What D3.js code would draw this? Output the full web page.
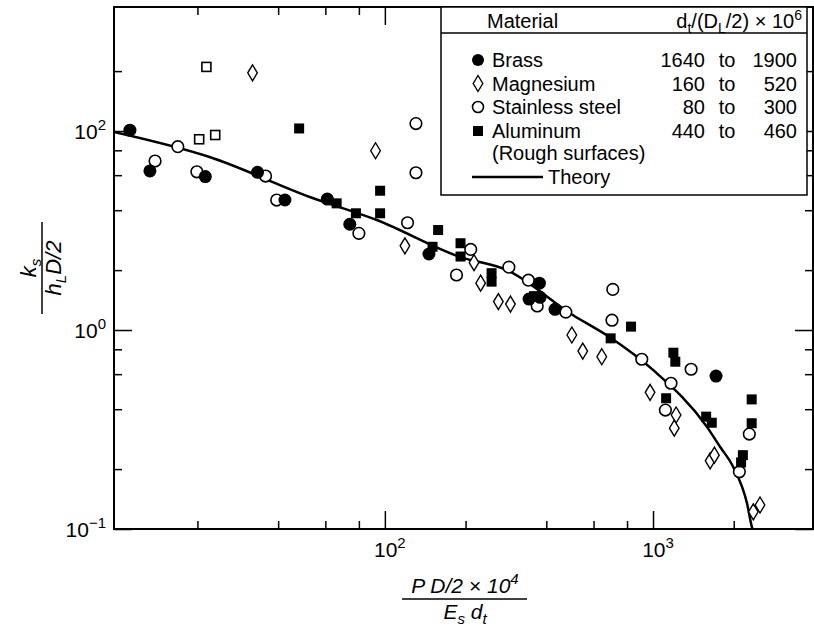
<!DOCTYPE html>
<html>
<head>
<meta charset="utf-8">
<script src="https://cdn.jsdelivr.net/npm/d3@7/dist/d3.min.js"></script>
<style>
  body { margin: 0; background: #fff; }
  svg { font-family: "Liberation Sans", Arial, Helvetica, sans-serif; }
</style>
</head>
<body>
<svg id="chart" width="814" height="626"></svg>
<script>
// values, [x, y] in data units
var brass = [[11.2, 10.1], [13.3, 6.3], [21.4, 5.9], [33.5, 6.2], [42.4, 4.5], [61, 4.55],
  [74, 3.4], [146, 2.41], [377, 1.72], [345, 1.43], [379, 1.46], [431, 1.27], [1718, 0.587]];
var magnesium = [[32.1, 19.6], [92.3, 7.96], [118.8, 2.65], [215, 2.18], [227.6, 1.72],
  [265, 1.39], [294, 1.35], [498, 0.944], [547, 0.784], [644, 0.734], [975, 0.486],
  [1219, 0.374], [1200, 0.321], [1633, 0.22], [1694, 0.235], [2366, 0.122], [2506, 0.132]];
var stainless = [[13.9, 7.07], [16.9, 8.34], [19.9, 6.24], [35.9, 5.94], [39.5, 4.5],
  [130.6, 10.9], [130.6, 6.17], [80, 3.06], [121.5, 3.46], [185, 1.89], [209, 2.54],
  [290, 2.07], [343, 1.78], [370, 1.32], [473, 1.23], [708, 1.6], [703, 1.12], [908, 0.713],
  [1112, 0.396], [1167, 0.54], [1387, 0.635], [2099, 0.194], [2286, 0.3]];
var aluminum = [[47.9, 10.3], [66.1, 4.33], [78, 3.86], [96, 5.01], [96, 3.86], [158, 3.18],
  [150.6, 2.62], [191.5, 2.73], [191.5, 2.34], [250, 1.93], [250, 1.75], [360, 1.48],
  [695, 0.908], [828, 1.04], [1119, 0.454], [1191, 0.769], [1211, 0.693], [1578, 0.367],
  [1656, 0.342], [2163, 0.235], [2130, 0.216], [2333, 0.448], [2333, 0.34]];
var rough = [[21.6, 21.0], [20.3, 9.09], [23.3, 9.55]];
var theory = [[9.77, 9.89], [22.2, 7.4], [52.5, 4.66], [93.3, 3.57], [190.5, 2.33], [285, 2.0],
  [502, 1.19], [697, 0.912], [1000, 0.63], [1589, 0.326], [1778, 0.259], [1991, 0.205],
  [2240, 0.135], [2339, 0.102], [2380, 0.095]];

var xMajor = [100, 1000];
var xMinor = [20, 40, 60, 80, 200, 400, 600, 800, 2000];
var xTickLabels = [["10", "2"], ["10", "3"]];
var yMajor = [0.1, 1, 10];
var yMinor = [0.2, 0.4, 0.6, 0.8, 2, 4, 6, 8, 20];
var yTickLabels = [["10", "\u22121"], ["10", "0"], ["10", "2"]];

var legendNames = ["Brass", "Magnesium", "Stainless steel", "Aluminum"];
var legendFrom = ["1640", "160", "80", "440"];
var legendTo = ["1900", "520", "300", "460"];

(function() {
var svg = d3.select("#chart");
var pl = 114, pr = 813, pt = 7, pb = 529;

var x = d3.scaleLog().domain([9.77, 3950]).range([pl, pr]);
var y = d3.scaleLog().domain([0.1, 42]).range([pb, pt]);

svg.append("defs").append("clipPath").attr("id", "plot")
  .append("rect").attr("x", pl).attr("y", pt)
  .attr("width", pr - pl).attr("height", pb - pt);

// ticks, all pointing inward
function ticks(axis, scale, vals, size, at) {
  var g = svg.append("g").attr("transform", at)
    .call(axis(scale).tickValues(vals).tickSize(-size).tickFormat(""));
  g.select(".domain").remove();
  g.selectAll("line").attr("stroke", "#000").attr("stroke-width", 1.5);
}
ticks(d3.axisBottom, x, xMinor, 8, "translate(0," + pb + ")");
ticks(d3.axisBottom, x, xMajor, 18, "translate(0," + pb + ")");
ticks(d3.axisTop, x, xMinor, 8, "translate(0," + pt + ")");
ticks(d3.axisTop, x, xMajor, 18, "translate(0," + pt + ")");
ticks(d3.axisLeft, y, yMinor, 8, "translate(" + pl + ",0)");
ticks(d3.axisLeft, y, yMajor, 18, "translate(" + pl + ",0)");
ticks(d3.axisRight, y, yMinor, 8, "translate(" + pr + ",0)");
ticks(d3.axisRight, y, yMajor, 18, "translate(" + pr + ",0)");

svg.append("rect").attr("x", pl).attr("y", pt)
  .attr("width", pr - pl).attr("height", pb - pt)
  .attr("fill", "none").attr("stroke", "#000").attr("stroke-width", 2);

// tick labels with superscripts
function power(sel, parts, big, small) {
  sel.append("tspan").attr("font-size", big).text(parts[0]);
  sel.append("tspan").attr("font-size", small).attr("dy", -9).text(parts[1]);
}
xMajor.forEach(function(v, i) {
  svg.append("text").attr("x", x(v) + 5).attr("y", 557)
    .attr("text-anchor", "middle").call(power, xTickLabels[i], 21, 15);
});
yMajor.forEach(function(v, i) {
  svg.append("text").attr("x", 106).attr("y", y(v) + 8)
    .attr("text-anchor", "end").call(power, yTickLabels[i], 21, 15);
});

// theory
var plot = svg.append("g").attr("clip-path", "url(#plot)");
plot.append("path").datum(theory)
  .attr("fill", "none").attr("stroke", "#000").attr("stroke-width", 2.5)
  .attr("d", d3.line().x(function(d) { return x(d[0]); })
    .y(function(d) { return y(d[1]); }).curve(d3.curveMonotoneX));

// markers
var diamond = "M0,-8L4.8,0L0,8L-4.8,0Z";
function circles(data, filled) {
  plot.selectAll(null).data(data).enter().append("circle")
    .attr("cx", function(d) { return x(d[0]); })
    .attr("cy", function(d) { return y(d[1]); })
    .attr("r", filled ? 6.5 : 5.8)
    .attr("fill", filled ? "#000" : "#fff")
    .attr("stroke", "#000").attr("stroke-width", filled ? 0 : 1.6);
}
function squares(data, filled) {
  var s = filled ? 10 : 9;
  plot.selectAll(null).data(data).enter().append("rect")
    .attr("x", function(d) { return x(d[0]) - s / 2; })
    .attr("y", function(d) { return y(d[1]) - s / 2; })
    .attr("width", s).attr("height", s)
    .attr("fill", filled ? "#000" : "#fff")
    .attr("stroke", "#000").attr("stroke-width", filled ? 0 : 1.6);
}
plot.selectAll(null).data(magnesium).enter().append("path")
  .attr("d", diamond)
  .attr("transform", function(d) { return "translate(" + x(d[0]) + "," + y(d[1]) + ")"; })
  .attr("fill", "#fff").attr("stroke", "#000").attr("stroke-width", 1.4);
circles(stainless, false);
squares(rough, false);
squares(aluminum, true);
circles(brass, true);

// legend
var lg = svg.append("g");
lg.append("rect").attr("x", 441).attr("y", pt).attr("width", 366).attr("height", 188)
  .attr("fill", "#fff").attr("stroke", "#000").attr("stroke-width", 1.5);
lg.append("line").attr("x1", 441).attr("x2", 807).attr("y1", 33).attr("y2", 33)
  .attr("stroke", "#000").attr("stroke-width", 1.5);
lg.append("text").attr("x", 487).attr("y", 28).attr("font-size", 20).text("Material");
var hd = lg.append("text").attr("x", 802).attr("y", 28).attr("font-size", 20)
  .attr("text-anchor", "end");
hd.append("tspan").text("d");
hd.append("tspan").attr("font-size", 14).attr("dy", 5).text("t");
hd.append("tspan").attr("dy", -5).text("/(D");
hd.append("tspan").attr("font-size", 14).attr("dy", 5).text("L");
hd.append("tspan").attr("dy", -5).text("/2) \u00d7 10");
hd.append("tspan").attr("font-size", 14).attr("dy", -8).text("6");

var rowY = [60, 83.5, 107, 131];
var symX = 478, nameX = 492;
legendNames.forEach(function(n, i) {
  var ty = rowY[i] + 7;
  lg.append("text").attr("x", nameX).attr("y", ty).attr("font-size", 20).text(n);
  lg.append("text").attr("x", 705).attr("y", ty).attr("font-size", 20)
    .attr("text-anchor", "end").text(legendFrom[i]);
  lg.append("text").attr("x", 727).attr("y", ty).attr("font-size", 20)
    .attr("text-anchor", "middle").text("to");
  lg.append("text").attr("x", 797).attr("y", ty).attr("font-size", 20)
    .attr("text-anchor", "end").text(legendTo[i]);
});
lg.append("circle").attr("cx", symX).attr("cy", rowY[0]).attr("r", 6);
lg.append("path").attr("d", diamond)
  .attr("transform", "translate(" + symX + "," + rowY[1] + ")")
  .attr("fill", "#fff").attr("stroke", "#000").attr("stroke-width", 1.4);
lg.append("circle").attr("cx", symX).attr("cy", rowY[2]).attr("r", 5.5)
  .attr("fill", "#fff").attr("stroke", "#000").attr("stroke-width", 1.6);
lg.append("rect").attr("x", symX - 5).attr("y", rowY[3] - 5).attr("width", 10).attr("height", 10);
lg.append("text").attr("x", nameX).attr("y", 160).attr("font-size", 20).text("(Rough surfaces)");
lg.append("line").attr("x1", symX - 6).attr("x2", 543).attr("y1", 177).attr("y2", 177)
  .attr("stroke", "#000").attr("stroke-width", 2.5);
lg.append("text").attr("x", 548).attr("y", 184).attr("font-size", 20).text("Theory");

// axis titles
var xt = svg.append("g").attr("font-style", "italic").attr("font-size", 21);
xt.append("text").attr("x", 465).attr("y", 593).attr("text-anchor", "middle")
  .call(function(t) {
    t.append("tspan").text("P D/2\u00a0\u00d7 10");
    t.append("tspan").attr("font-size", 15).attr("dy", -9).text("4");
  });
xt.append("line").attr("x1", 402).attr("x2", 527).attr("y1", 599).attr("y2", 599)
  .attr("stroke", "#000").attr("stroke-width", 1.5);
xt.append("text").attr("x", 465).attr("y", 619).attr("text-anchor", "middle")
  .call(function(t) {
    t.append("tspan").text("E");
    t.append("tspan").attr("font-size", 15).attr("dy", 5).text("s");
    t.append("tspan").attr("dy", -5).text(" d");
    t.append("tspan").attr("font-size", 15).attr("dy", 5).text("t");
  });

var yt = svg.append("g").attr("font-style", "italic").attr("font-size", 22)
  .attr("transform", "translate(42,268) rotate(-90)");
yt.append("text").attr("x", 0).attr("y", -6).attr("text-anchor", "middle")
  .call(function(t) {
    t.append("tspan").text("k");
    t.append("tspan").attr("font-size", 15).attr("dy", 5).text("s");
  });
yt.append("line").attr("x1", -46).attr("x2", 46).attr("y1", 0).attr("y2", 0)
  .attr("stroke", "#000").attr("stroke-width", 1.5);
yt.append("text").attr("x", 0).attr("y", 19).attr("text-anchor", "middle")
  .call(function(t) {
    t.append("tspan").text("h");
    t.append("tspan").attr("font-size", 15).attr("dy", 5).text("L");
    t.append("tspan").attr("dy", -5).text("D/2");
  });
})();
</script>
</body>
</html>
